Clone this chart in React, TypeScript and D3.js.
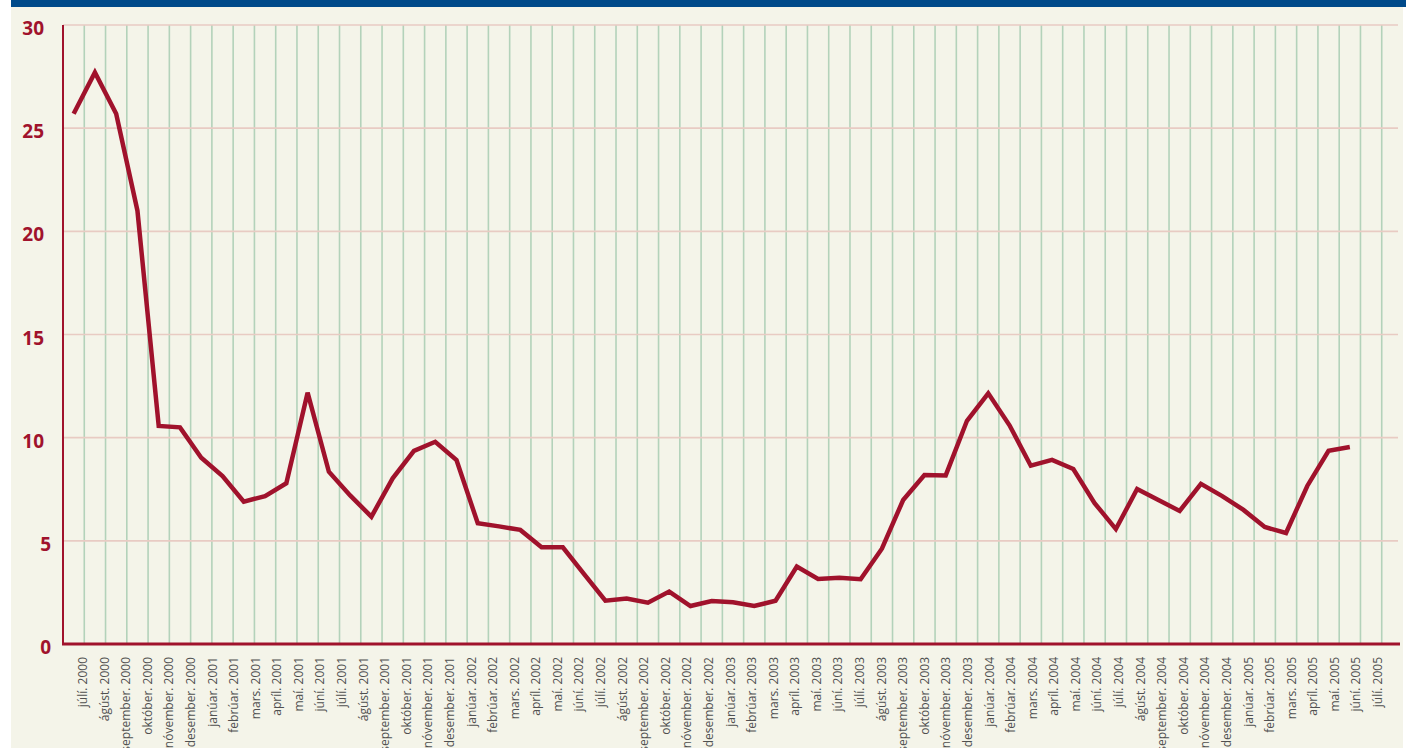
import React, { useEffect, useRef } from "react";
import * as d3 from "d3";

// mánuðir á x-ás
const months = [
  "júlí. 2000", "ágúst. 2000", "september. 2000", "október. 2000", "nóvember. 2000", "desember. 2000",
  "janúar. 2001", "febrúar. 2001", "mars. 2001", "apríl. 2001", "maí. 2001", "júní. 2001",
  "júlí. 2001", "ágúst. 2001", "september. 2001", "október. 2001", "nóvember. 2001", "desember. 2001",
  "janúar. 2002", "febrúar. 2002", "mars. 2002", "apríl. 2002", "maí. 2002", "júní. 2002",
  "júlí. 2002", "ágúst. 2002", "september. 2002", "október. 2002", "nóvember. 2002", "desember. 2002",
  "janúar. 2003", "febrúar. 2003", "mars. 2003", "apríl. 2003", "maí. 2003", "júní. 2003",
  "júlí. 2003", "ágúst. 2003", "september. 2003", "október. 2003", "nóvember. 2003", "desember. 2003",
  "janúar. 2004", "febrúar. 2004", "mars. 2004", "apríl. 2004", "maí. 2004", "júní. 2004",
  "júlí. 2004", "ágúst. 2004", "september. 2004", "október. 2004", "nóvember. 2004", "desember. 2004",
  "janúar. 2005", "febrúar. 2005", "mars. 2005", "apríl. 2005", "maí. 2005", "júní. 2005",
  "júlí. 2005",
];

const values = [
  25.7, 27.7, 25.7, 21.0, 10.57, 10.5, 9.03, 8.14, 6.9, 7.17,
  7.79, 12.18, 8.35, 7.2, 6.17, 8.03, 9.36, 9.8, 8.92, 5.85,
  5.7, 5.53, 4.69, 4.69, 3.39, 2.1, 2.2, 2.0, 2.54, 1.84,
  2.08, 2.02, 1.84, 2.1, 3.75, 3.15, 3.21, 3.14, 4.62, 6.98,
  8.19, 8.17, 10.82, 12.15, 10.6, 8.64, 8.92, 8.48, 6.83, 5.57,
  7.51, 6.98, 6.45, 7.76, 7.17, 6.5, 5.67, 5.38, 7.66, 9.36,
  9.55,
];

const yTicks = [0, 5, 10, 15, 20, 25, 30];

const W = 1411;
const H = 748;
const RED = "#a0122c";

export default function App() {
  const ref = useRef<SVGSVGElement>(null);

  useEffect(() => {
    const svg = d3.select(ref.current);
    svg.selectAll("*").remove();

    // bakgrunnur
    svg.append("rect").attr("x", 11).attr("y", 0).attr("width", 1392).attr("height", H).attr("fill", "#f4f4e9");
    svg.append("rect").attr("x", 11).attr("y", 0).attr("width", 1395).attr("height", 7).attr("fill", "#004a8a");

    const nBands = 63;
    const x = d3.scaleLinear().domain([0, nBands]).range([63, 1403]);
    const y = d3.scaleLinear().domain([0, 30]).range([644, 25]);
    const xl = d3.scalePoint<string>().domain(months).range([83, 1378]);

    // lóðréttar línur
    svg.append("g")
      .selectAll("line")
      .data(d3.range(1, nBands))
      .enter()
      .append("line")
      .attr("x1", (d) => x(d))
      .attr("x2", (d) => x(d))
      .attr("y1", y(30))
      .attr("y2", y(0))
      .attr("stroke", "#b3d2ba")
      .attr("stroke-width", 1.6);

    // láréttar línur
    svg.append("g")
      .selectAll("line")
      .data(yTicks.filter((d) => d > 0))
      .enter()
      .append("line")
      .attr("x1", 63)
      .attr("x2", 1398)
      .attr("y1", (d) => y(d))
      .attr("y2", (d) => y(d))
      .attr("stroke", "#e8cbc3")
      .attr("stroke-width", 1.6);

    // ásar
    svg.append("line")
      .attr("x1", 63).attr("x2", 63)
      .attr("y1", y(30)).attr("y2", y(0))
      .attr("stroke", RED).attr("stroke-width", 2);
    svg.append("line")
      .attr("x1", 62).attr("x2", 1400)
      .attr("y1", y(0)).attr("y2", y(0))
      .attr("stroke", RED).attr("stroke-width", 2.8);

    // y-merki
    svg.append("g")
      .selectAll("text")
      .data(yTicks)
      .enter()
      .append("text")
      .attr("x", (d) => (String(d).length > 1 ? 44 : 51))
      .attr("y", (d) => y(d) + 10)
      .attr("text-anchor", "end")
      .attr("font-family", "'Open Sans', 'Noto Sans', sans-serif")
      .attr("font-weight", 700)
      .attr("font-size", 19)
      .attr("fill", RED)
      .text((d) => d);

    // x-merki
    svg.append("g")
      .selectAll("text")
      .data(months)
      .enter()
      .append("text")
      .attr("transform", (d) => `translate(${(xl(d) ?? 0) + 4},657) rotate(-90)`)
      .attr("text-anchor", "end")
      .attr("font-family", "'Open Sans', 'Noto Sans', sans-serif")
      .attr("font-size", 12)
      .attr("fill", "#505050")
      .text((d) => d);

    // lína
    const line = d3.line<number>()
      .x((_, i) => x(i + 0.5))
      .y((d) => y(d));

    svg.append("path")
      .datum(values)
      .attr("d", line)
      .attr("fill", "none")
      .attr("stroke", RED)
      .attr("stroke-width", 4.5)
      .attr("stroke-linejoin", "miter");
  }, []);

  return (
    <svg
      ref={ref}
      width={W}
      height={H}
      style={{ position: "absolute", left: 0, top: 0, display: "block" }}
    />
  );
}
